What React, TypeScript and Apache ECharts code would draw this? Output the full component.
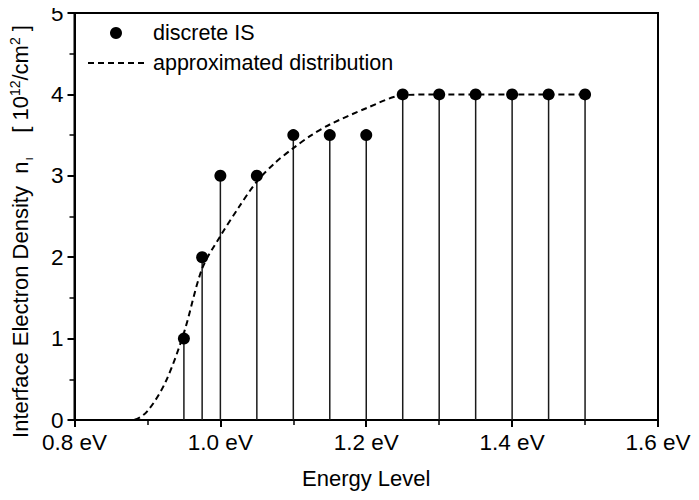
import React, { useEffect, useRef } from "react";
import * as echarts from "echarts";

// Discrete interface states: energy (eV) and density (10^12 / cm^2)
const stateEnergies = [0.95, 0.975, 1.0, 1.05, 1.1, 1.15, 1.2, 1.25, 1.3, 1.35, 1.4, 1.45, 1.5];
const stateDensities = [1, 2, 3, 3, 3.5, 3.5, 3.5, 4, 4, 4, 4, 4, 4];

// Approximated continuous distribution
const curveEnergies = [0.8, 0.88, 0.9, 0.925, 0.95, 0.975, 1.0, 1.025, 1.05, 1.075, 1.1, 1.125, 1.15, 1.2, 1.25, 1.3, 1.35, 1.4, 1.45, 1.5];
const curveDensities = [0, 0, 0.11, 0.47, 1.07, 1.86, 2.26, 2.61, 2.93, 3.16, 3.34, 3.5, 3.63, 3.83, 3.99, 4.0, 4.0, 4.0, 4.0, 4.0];

const xTicks = [0.8, 1.0, 1.2, 1.4, 1.6];
const yTicks = [0, 1, 2, 3, 4, 5];

const FONT = "'Liberation Sans', Arial, Helvetica, sans-serif";

export default function App() {
  const ref = useRef<HTMLDivElement>(null);

  useEffect(() => {
    if (!ref.current) return;
    const chart = echarts.init(ref.current, null, { renderer: "svg" });

    const points = stateEnergies.map((e, i) => [e, stateDensities[i]]);
    const curve = curveEnergies.map((e, i) => [e, curveDensities[i]]);

    chart.setOption({
      animation: false,
      backgroundColor: "#fff",
      textStyle: { fontFamily: FONT, color: "#000" },
      grid: {
        left: 73,
        right: 41,
        top: 13,
        bottom: 80,
        show: true,
        borderColor: "#000",
        borderWidth: 2,
        backgroundColor: "transparent",
      },
      legend: {
        orient: "vertical",
        left: 82,
        top: 17,
        itemWidth: 56,
        itemHeight: 12,
        itemGap: 8,
        data: [
          { name: "discrete IS" },
          { name: "approximated distribution", itemStyle: { opacity: 0 } },
        ],
        textStyle: { fontFamily: FONT, fontSize: 21.5, color: "#000", padding: [0, 0, 0, 4] },
        selectedMode: false,
      },
      xAxis: {
        type: "value",
        min: xTicks[0],
        max: xTicks[xTicks.length - 1],
        interval: 0.2,
        name: "Energy Level",
        nameLocation: "middle",
        nameGap: 47,
        nameTextStyle: { fontFamily: FONT, fontSize: 22, color: "#000" },
        axisLine: { show: true, onZero: false, lineStyle: { color: "#000", width: 2 } },
        axisTick: { show: true, inside: false, length: 7, lineStyle: { color: "#000", width: 2 } },
        minorTick: { show: true, splitNumber: 2, length: 5, lineStyle: { color: "#000", width: 1.5 } },
        splitLine: { show: false },
        axisLabel: {
          fontFamily: FONT,
          fontSize: 22.5,
          color: "#000",
          margin: 11,
          formatter: (v: number) => v.toFixed(1) + " eV",
        },
      },
      yAxis: {
        type: "value",
        min: yTicks[0],
        max: yTicks[yTicks.length - 1],
        interval: 1,
        name:
          "{a|Interface Electron Density  n}{sub|ı}{a|    [ 10}{sup|12}{a|/cm}{sup|2}{a| ]}",
        nameLocation: "middle",
        nameRotate: 90,
        nameGap: 40,
        nameTextStyle: {
          fontFamily: FONT,
          color: "#000",
          padding: [0, 30, 0, 0],
          rich: {
            a: { fontFamily: FONT, fontSize: 22, color: "#000" },
            sub: { fontFamily: FONT, fontSize: 12, color: "#000", padding: [17, 0, 0, 1] },
            sup: { fontFamily: FONT, fontSize: 14, color: "#000", padding: [0, 0, 10, 0] },
          },
        },
        axisLine: { show: true, onZero: false, lineStyle: { color: "#000", width: 2 } },
        axisTick: { show: true, inside: false, length: 7, lineStyle: { color: "#000", width: 2 } },
        minorTick: { show: true, splitNumber: 2, length: 5, lineStyle: { color: "#000", width: 1.5 } },
        splitLine: { show: false },
        axisLabel: { fontFamily: FONT, fontSize: 22.5, color: "#000", margin: 11 },
      },
      series: [
        {
          // vertical stems from the axis to each discrete state
          type: "custom",
          silent: true,
          z: 1,
          encode: { x: 0, y: 1 },
          data: points,
          renderItem: (_params: any, api: any) => {
            const x = api.value(0);
            const y = api.value(1);
            const p0 = api.coord([x, 0]);
            const p1 = api.coord([x, y]);
            return {
              type: "line",
              shape: { x1: p0[0], y1: p0[1], x2: p1[0], y2: p1[1] },
              style: { stroke: "#1a1a1a", lineWidth: 1.5 },
            };
          },
        },
        {
          name: "approximated distribution",
          type: "line",
          data: curve,
          smooth: 0.3,
          symbol: "none",
          z: 2,
          lineStyle: { color: "#000", width: 2, type: [6, 4] },
        },
        {
          name: "discrete IS",
          type: "scatter",
          data: points,
          symbol: "circle",
          symbolSize: 12,
          z: 3,
          itemStyle: { color: "#000", opacity: 1 },
        },
      ],
    });

    return () => chart.dispose();
  }, []);

  return <div ref={ref} style={{ width: 699, height: 500, margin: -8 }} />;
}
